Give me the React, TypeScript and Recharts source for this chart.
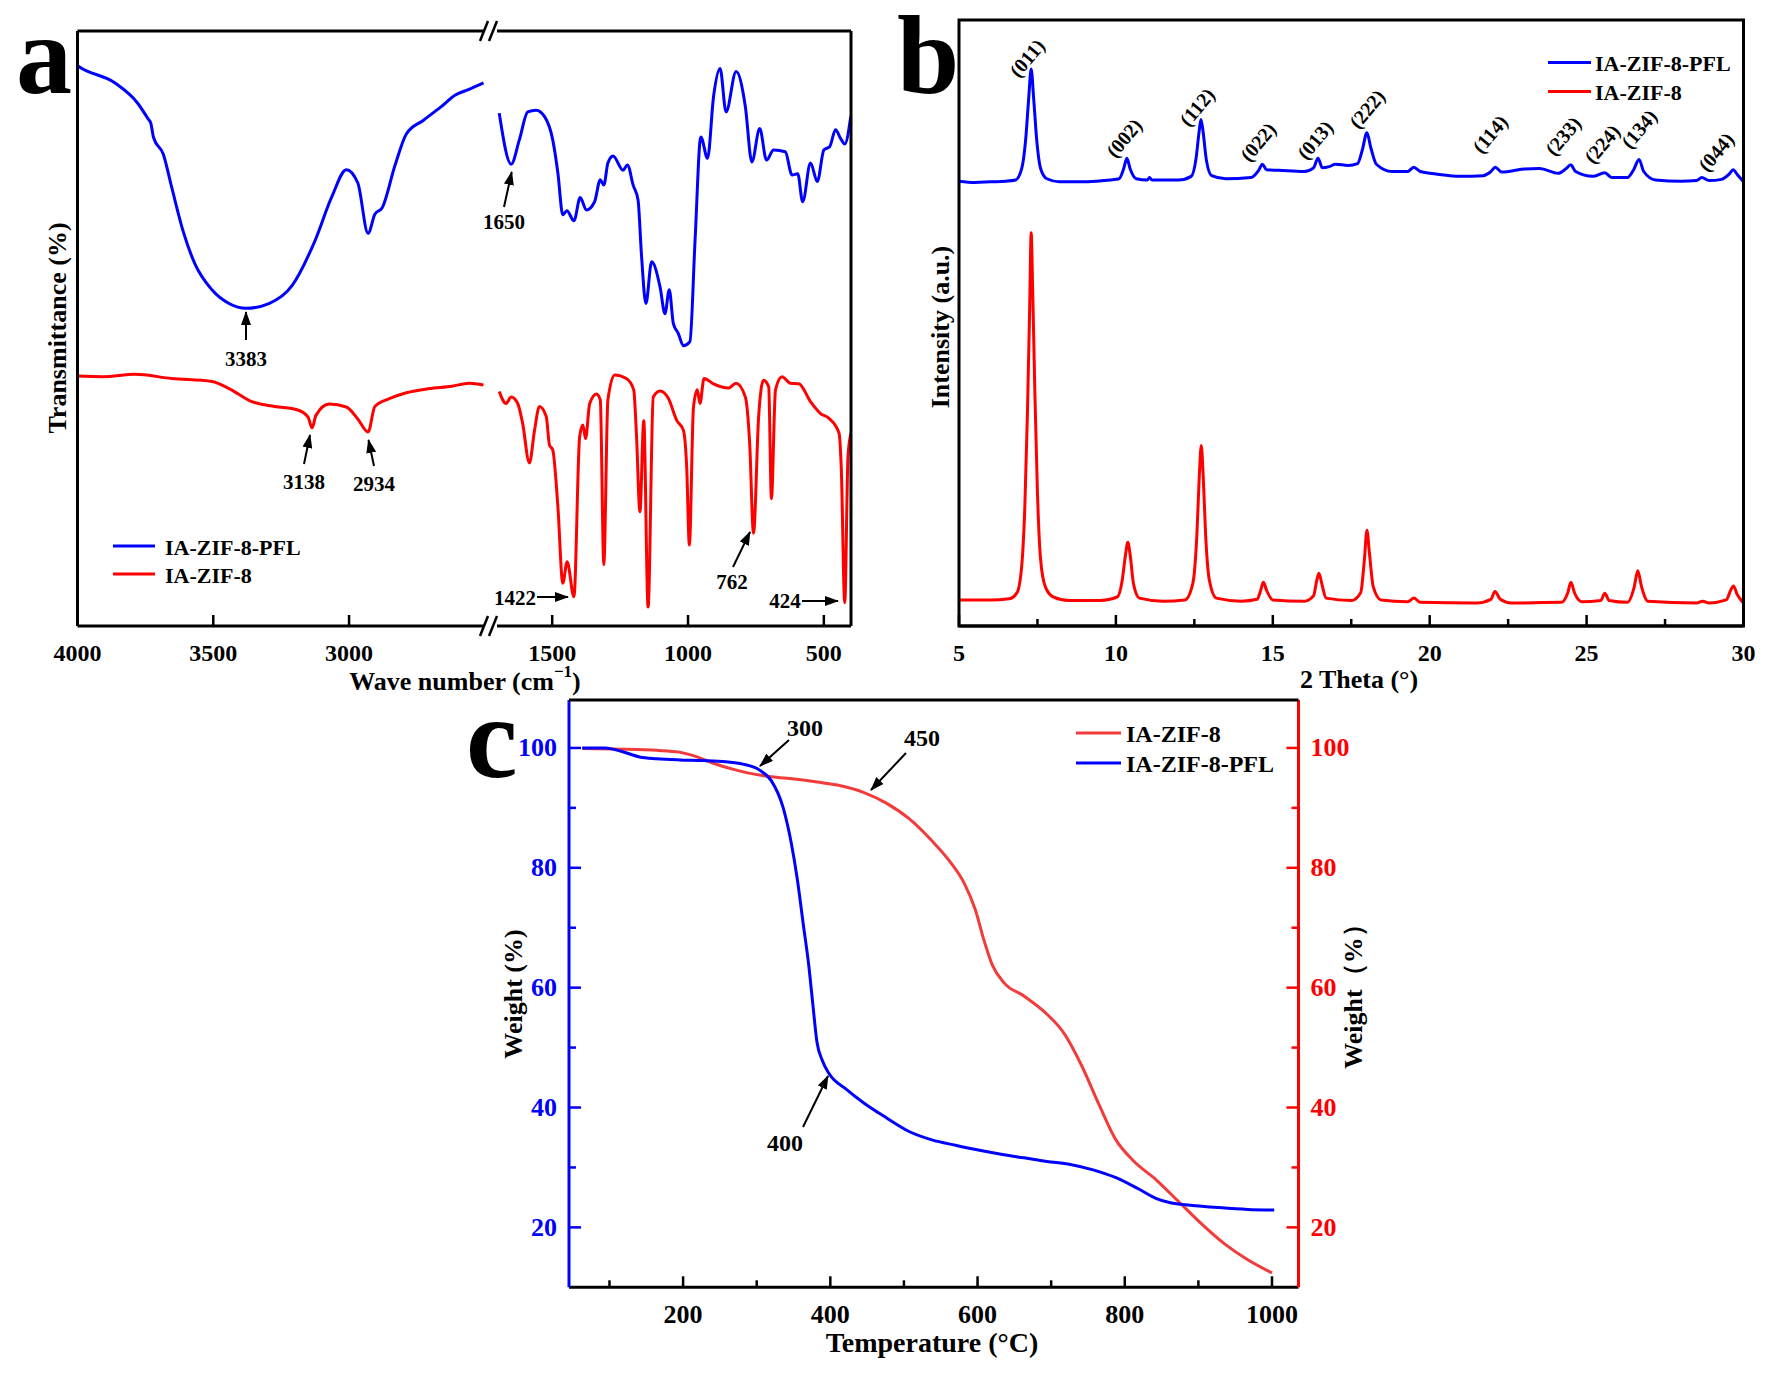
import React from "react";
import { LineChart, Line, XAxis, YAxis } from "recharts";

const FONT = "'Liberation Serif', 'Times New Roman', serif";
const BLUE = "#0000ff";
const RED = "#ff0000";
const RED_TGA = "#f23b3b";

// ---- panel a: FTIR (wavenumber, transmittance read as % of plot height) ----
const ftirPflHigh: [number, number][] = [
  [4000, 94.2], [3994, 94.0], [3863, 91.3], [3779, 87.9], [3741, 85.3], [3730, 84.5], [3720, 82.1],
  [3684, 79.3], [3653, 73.7], [3610, 66.2], [3568, 60.9], [3505, 56.5], [3442, 54.2], [3379, 53.4],
  [3295, 54.2], [3210, 57.2], [3126, 64.7], [3063, 72.2], [3010, 76.7], [2968, 74.5], [2930, 66.0],
  [2905, 69.2], [2878, 70.3], [2831, 77.4], [2789, 82.7], [2726, 85.0], [2663, 87.2], [2610, 89.2],
  [2558, 90.2], [2505, 91.3],
];
const ftirZifHigh: [number, number][] = [
  [4000, 42.0], [3905, 41.9], [3789, 42.3], [3653, 41.6], [3505, 41.1], [3442, 39.9], [3358, 37.7],
  [3274, 36.9], [3189, 36.3], [3151, 35.1], [3136, 33.3], [3122, 35.4], [3073, 37.3], [3010, 36.8],
  [2968, 34.8], [2930, 32.6], [2905, 36.9], [2852, 38.2], [2789, 39.2], [2705, 39.9], [2621, 40.3],
  [2558, 40.8], [2505, 40.5],
];
const ftirPflLow: [number, number][] = [
  [1695, 86.2], [1651, 77.6], [1621, 81.7], [1590, 86.4], [1559, 86.7], [1528, 85.6], [1498, 81.7],
  [1479, 76.1], [1461, 69.1], [1446, 69.8], [1420, 68.1], [1397, 72.0], [1374, 69.9], [1344, 71.3],
  [1323, 75.0], [1310, 74.1], [1295, 77.8], [1276, 79.0], [1239, 76.6], [1223, 77.5], [1202, 74.1],
  [1184, 71.6], [1171, 62.1], [1155, 54.2], [1134, 61.2], [1103, 57.0], [1085, 52.5], [1069, 56.5],
  [1054, 50.8], [1036, 49.2], [1017, 47.1], [993, 47.8], [974, 64.9], [953, 82.2], [928, 78.6],
  [906, 89.0], [882, 93.7], [860, 86.4], [823, 93.2], [789, 87.3], [765, 78.0], [736, 83.6],
  [711, 78.3], [685, 80.0], [642, 79.7], [617, 75.8], [596, 76.0], [578, 71.3], [549, 77.8],
  [524, 74.7], [500, 80.0], [478, 80.6], [457, 83.4], [438, 81.9], [423, 81.0], [401, 85.6],
];
const ftirZifLow: [number, number][] = [
  [1695, 39.4], [1670, 37.4], [1651, 38.5], [1627, 37.4], [1609, 34.1], [1584, 27.4], [1565, 32.9],
  [1547, 36.9], [1522, 35.2], [1510, 30.4], [1498, 29.6], [1479, 20.0], [1461, 7.2], [1445, 10.8],
  [1420, 4.9], [1399, 31.8], [1387, 33.8], [1377, 31.5], [1362, 37.4], [1337, 39.0], [1323, 38.0],
  [1310, 10.3], [1295, 38.0], [1270, 42.2], [1227, 41.6], [1200, 39.7], [1190, 32.4], [1177, 19.2],
  [1163, 34.5], [1147, 3.2], [1128, 38.5], [1103, 39.5], [1073, 38.3], [1042, 34.6], [1017, 32.9],
  [1005, 26.8], [995, 13.6], [980, 36.7], [966, 39.7], [956, 37.4], [941, 41.6], [906, 40.7],
  [851, 40.0], [823, 40.8], [789, 38.5], [773, 30.7], [759, 15.6], [740, 35.2], [722, 41.3],
  [703, 40.2], [693, 21.4], [678, 39.7], [654, 41.9], [623, 40.8], [592, 40.7], [549, 37.7],
  [512, 35.7], [481, 34.9], [444, 32.4], [436, 26.8], [423, 3.9], [411, 28.5], [400, 32.4],
];
const ftirTicksHigh = [4000, 3500, 3000];
const ftirTicksLow = [1500, 1000, 500];

// ---- panel b: XRD (2 theta, intensity as % of plot height) ----
const xrdPfl: [number, number][] = [
  [5.0, 73.4], [5.5, 73.2], [6.0, 73.3], [6.5, 73.4], [6.8, 73.6], [7.0, 75.5], [7.12, 80], [7.22, 87],
  [7.3, 91.9], [7.38, 87], [7.48, 80], [7.6, 75.5], [7.8, 73.8], [8.2, 73.3], [9.0, 73.3], [9.6, 73.5],
  [10.1, 73.8], [10.25, 75.5], [10.35, 77.2], [10.45, 75.5], [10.65, 73.8], [11.0, 73.6], [11.07, 74.0],
  [11.15, 73.6], [12.0, 73.6], [12.4, 74.2], [12.55, 77], [12.65, 81.5], [12.71, 83.6], [12.78, 81.5],
  [12.88, 77], [13.05, 74.3], [13.5, 73.8], [14.3, 74], [14.55, 75.2], [14.67, 76.2], [14.8, 75.3],
  [15.2, 75.2], [16.0, 75], [16.3, 75.6], [16.44, 77.2], [16.58, 75.6], [16.8, 75.8], [17.0, 76.2],
  [17.4, 76.0], [17.7, 76.3], [17.85, 78.5], [18.0, 81.4], [18.12, 79], [18.3, 76.2], [18.8, 75],
  [19.3, 75], [19.49, 75.7], [19.7, 75], [20.2, 74.6], [21.0, 74.2], [21.7, 74.3], [21.95, 75],
  [22.09, 75.7], [22.3, 74.9], [23.0, 75.4], [23.5, 75.5], [24.1, 74.7], [24.35, 75.5], [24.49, 76.1],
  [24.65, 75], [25.2, 74.2], [25.58, 74.8], [25.8, 74], [26.3, 74], [26.5, 75.3], [26.67, 77],
  [26.82, 75], [27.2, 73.6], [28.0, 73.4], [28.5, 73.5], [28.67, 74], [28.9, 73.5], [29.3, 73.7],
  [29.55, 74.6], [29.67, 75.3], [29.8, 74.5], [30.0, 73.3],
];
const xrdZif: [number, number][] = [
  [5.0, 4.3], [6.0, 4.3], [6.6, 4.5], [6.85, 5.5], [7.0, 10], [7.1, 20], [7.18, 35], [7.25, 52],
  [7.3, 64.9], [7.35, 55], [7.42, 38], [7.5, 22], [7.6, 11], [7.75, 6.5], [8.0, 4.8], [8.5, 4.2],
  [9.5, 4.2], [10.05, 4.8], [10.2, 7.5], [10.3, 11.5], [10.38, 13.8], [10.46, 11.5], [10.56, 7],
  [10.75, 4.6], [11.5, 4.1], [12.2, 4.3], [12.45, 7], [12.58, 15], [12.66, 25], [12.72, 29.8],
  [12.78, 25], [12.86, 15], [12.98, 7.5], [13.2, 4.6], [14.0, 4.1], [14.5, 4.4], [14.62, 6],
  [14.7, 7.2], [14.8, 5.9], [15.0, 4.3], [16.0, 4.1], [16.3, 5], [16.4, 7.5], [16.47, 8.7],
  [16.56, 7], [16.7, 4.6], [17.5, 4.2], [17.8, 5.5], [17.92, 11], [18.0, 15.8], [18.08, 12],
  [18.2, 6.5], [18.45, 4.3], [19.3, 4], [19.5, 4.6], [19.7, 3.9], [21.5, 3.8], [21.95, 4.4],
  [22.08, 5.7], [22.25, 4.4], [22.6, 3.8], [24.2, 3.9], [24.4, 5.5], [24.5, 7.2], [24.62, 5.4],
  [24.85, 4], [25.45, 4.2], [25.58, 5.4], [25.72, 4.2], [26.3, 3.9], [26.52, 6.5], [26.63, 9.1],
  [26.75, 6.5], [26.95, 4.1], [28.5, 3.8], [28.7, 4.1], [28.9, 3.8], [29.45, 4.3], [29.6, 6],
  [29.68, 6.6], [29.8, 5.2], [30.0, 3.8],
];
const xrdTicks = [5, 7.5, 10, 12.5, 15, 17.5, 20, 22.5, 25, 27.5, 30];
const xrdMajor = [5, 10, 15, 20, 25, 30];
const hklLabels = ["(011)", "(002)", "(112)", "(022)", "(013)", "(222)", "(114)", "(233)", "(224)", "(134)", "(044)"];
const hklPos: [number, number][] = [
  [1027, 58], [1124, 138], [1197, 107], [1258, 142], [1315, 140], [1367, 109],
  [1490, 134], [1563, 136], [1602, 144], [1639, 129], [1716, 152],
];

// ---- panel c: TGA (temperature, weight %) ----
const tgaPfl: [number, number][] = [
  [63, 100], [94, 100], [117, 99.4], [141, 98.5], [164, 98.2], [195, 98.0], [226, 97.9], [258, 97.7],
  [281, 97.3], [304, 96.3], [320, 94.5], [336, 90.0], [347, 84.1], [355, 78.2], [363, 70.8], [371, 63.4],
  [376, 57.5], [382, 50.8], [389, 47.9], [398, 45.7], [421, 43.1], [445, 40.8], [476, 38.3], [507, 36.0],
  [538, 34.6], [570, 33.7], [601, 32.9], [632, 32.2], [663, 31.6], [694, 31.0], [726, 30.5], [757, 29.6],
  [788, 28.3], [819, 26.4], [843, 24.8], [862, 24.1], [889, 23.7], [928, 23.3], [967, 23.0], [1003, 22.9],
];
const tgaZif: [number, number][] = [
  [63, 99.9], [117, 99.8], [164, 99.6], [195, 99.3], [219, 98.5], [242, 97.4], [266, 96.5], [289, 95.8],
  [320, 95.2], [351, 94.8], [382, 94.3], [414, 93.7], [445, 92.6], [476, 90.8], [507, 88.2], [538, 84.5],
  [562, 81.1], [582, 77.4], [597, 73.0], [609, 67.8], [620, 63.8], [636, 60.8], [663, 58.6], [694, 55.6],
  [718, 52.3], [741, 47.1], [765, 40.5], [788, 34.6], [811, 31.2], [843, 27.9], [874, 24.2], [905, 20.5],
  [936, 17.2], [967, 14.6], [1000, 12.4],
];
const tgaXTicks = [100, 200, 300, 400, 500, 600, 700, 800, 900, 1000];
const tgaXMajor = [200, 400, 600, 800, 1000];
const tgaYTicks = [20, 30, 40, 50, 60, 70, 80, 90, 100];
const tgaYMajor = [20, 40, 60, 80, 100];

const toPts = (arr: [number, number][]) => arr.map(([x, y]) => ({ x, y }));

const bold = { fontFamily: FONT, fontWeight: 700 } as const;

function bottomTick(majors: number[], size: number, color = "#000") {
  return (props: any) => {
    const { x, y, payload } = props;
    const major = majors.includes(payload.value);
    return (
      <g>
        <line x1={x} y1={y} x2={x} y2={y - (major ? 11 : 7)} stroke="#000" strokeWidth={2.5} />
        {major && (
          <text x={x} y={y + 27} textAnchor="middle" dominantBaseline="central" fontSize={size} fill={color} style={bold}>
            {payload.value}
          </text>
        )}
      </g>
    );
  };
}

function sideTick(side: "left" | "right", color: string) {
  return (props: any) => {
    const { x, y, payload } = props;
    const major = tgaYMajor.includes(payload.value);
    const dir = side === "left" ? 1 : -1;
    return (
      <g>
        <line x1={x} y1={y} x2={x + dir * (major ? 12 : 7)} y2={y} stroke={color} strokeWidth={2.5} />
        {major && (
          <text
            x={x - dir * 12}
            y={y}
            textAnchor={side === "left" ? "end" : "start"}
            dominantBaseline="central"
            fontSize={26}
            fill={color}
            style={bold}
          >
            {payload.value}
          </text>
        )}
      </g>
    );
  };
}

const Arrow = ({ x1, y1, x2, y2 }: { x1: number; y1: number; x2: number; y2: number }) => (
  <line x1={x1} y1={y1} x2={x2} y2={y2} stroke="#000" strokeWidth={2} markerEnd="url(#ah)" />
);

const T = ({ x, y, s, children, fill = "#000", rot, anchor = "middle" }: any) => (
  <text
    x={x}
    y={y}
    fontSize={s}
    fill={fill}
    textAnchor={anchor}
    dominantBaseline="central"
    transform={rot !== undefined ? `rotate(${rot} ${x} ${y})` : undefined}
    style={bold}
  >
    {children}
  </text>
);

export default function App() {
  const abs = (left: number, top: number): React.CSSProperties => ({ position: "absolute", left, top });
  return (
    <div style={{ position: "absolute", left: 0, top: 0, width: 1775, height: 1374, background: "#fff", overflow: "hidden" }}>
      {/* panel a, high wavenumber part */}
      <div style={abs(0, 0)}>
        <LineChart width={490} height={700} margin={{ top: 31, left: 77.5, right: 0, bottom: 24 }}>
          <XAxis
            type="number"
            dataKey="x"
            domain={[2481, 4000]}
            reversed
            allowDataOverflow
            ticks={ftirTicksHigh}
            interval={0}
            height={50}
            tickSize={0}
            tickMargin={0}
            tickLine={false}
            axisLine={{ stroke: "#000", strokeWidth: 3 }}
            tick={bottomTick(ftirTicksHigh, 24)}
          />
          <YAxis hide domain={[0, 100]} />
          <Line data={toPts(ftirPflHigh)} dataKey="y" type="monotone" stroke={BLUE} strokeWidth={3} dot={false} isAnimationActive={false} />
          <Line data={toPts(ftirZifHigh)} dataKey="y" type="monotone" stroke={RED} strokeWidth={3} dot={false} isAnimationActive={false} />
        </LineChart>
      </div>
      {/* panel a, low wavenumber part */}
      <div style={abs(490, 0)}>
        <LineChart width={400} height={700} margin={{ top: 31, left: 0, right: 39, bottom: 24 }}>
          <XAxis
            type="number"
            dataKey="x"
            domain={[400, 1729]}
            reversed
            allowDataOverflow
            ticks={ftirTicksLow}
            interval={0}
            height={50}
            tickSize={0}
            tickMargin={0}
            tickLine={false}
            axisLine={{ stroke: "#000", strokeWidth: 3 }}
            tick={bottomTick(ftirTicksLow, 24)}
          />
          <YAxis hide domain={[0, 100]} />
          <Line data={toPts(ftirPflLow)} dataKey="y" type="monotone" stroke={BLUE} strokeWidth={3} dot={false} isAnimationActive={false} />
          <Line data={toPts(ftirZifLow)} dataKey="y" type="monotone" stroke={RED} strokeWidth={3} dot={false} isAnimationActive={false} />
        </LineChart>
      </div>
      {/* panel b */}
      <div style={abs(880, 0)}>
        <LineChart width={895} height={700} margin={{ top: 20, left: 79, right: 31.5, bottom: 24 }}>
          <XAxis
            type="number"
            dataKey="x"
            domain={[5, 30]}
            allowDataOverflow
            ticks={xrdTicks}
            interval={0}
            height={50}
            tickSize={0}
            tickMargin={0}
            tickLine={false}
            axisLine={{ stroke: "#000", strokeWidth: 3 }}
            tick={bottomTick(xrdMajor, 24)}
          />
          <YAxis hide domain={[0, 100]} />
          <Line data={toPts(xrdPfl)} dataKey="y" type="monotone" stroke={BLUE} strokeWidth={3} dot={false} isAnimationActive={false} />
          <Line data={toPts(xrdZif)} dataKey="y" type="monotone" stroke={RED} strokeWidth={3} dot={false} isAnimationActive={false} />
        </LineChart>
      </div>
      {/* panel c */}
      <div style={abs(450, 680)}>
        <LineChart width={960} height={700} margin={{ top: 20, left: 59, right: 51.5, bottom: 32.7 }}>
          <XAxis
            type="number"
            dataKey="x"
            domain={[45, 1036]}
            allowDataOverflow
            ticks={tgaXTicks}
            interval={0}
            height={60}
            tickSize={0}
            tickMargin={0}
            tickLine={false}
            axisLine={{ stroke: "#000", strokeWidth: 3 }}
            tick={bottomTick(tgaXMajor, 26)}
          />
          <YAxis
            yAxisId="L"
            orientation="left"
            width={60}
            domain={[10, 108]}
            allowDataOverflow
            ticks={tgaYTicks}
            interval={0}
            tickSize={0}
            tickMargin={0}
            tickLine={false}
            axisLine={{ stroke: BLUE, strokeWidth: 3 }}
            tick={sideTick("left", BLUE)}
          />
          <YAxis
            yAxisId="R"
            orientation="right"
            width={60}
            domain={[10, 108]}
            allowDataOverflow
            ticks={tgaYTicks}
            interval={0}
            tickSize={0}
            tickMargin={0}
            tickLine={false}
            axisLine={{ stroke: RED, strokeWidth: 3 }}
            tick={sideTick("right", RED)}
          />
          <Line yAxisId="R" data={toPts(tgaZif)} dataKey="y" type="monotone" stroke={RED_TGA} strokeWidth={3} dot={false} isAnimationActive={false} />
          <Line yAxisId="L" data={toPts(tgaPfl)} dataKey="y" type="monotone" stroke={BLUE} strokeWidth={3} dot={false} isAnimationActive={false} />
        </LineChart>
      </div>

      {/* frames, labels, annotations */}
      <svg width={1775} height={1374} style={{ position: "absolute", left: 0, top: 0, pointerEvents: "none" }}>
        <defs>
          <marker id="ah" markerUnits="userSpaceOnUse" markerWidth={14} markerHeight={10} refX={13} refY={5} orient="auto">
            <path d="M0,0 L14,5 L0,10 z" fill="#000" />
          </marker>
        </defs>

        {/* panel a frame with axis break */}
        <g stroke="#000" strokeWidth={3} fill="none">
          <line x1={77.5} y1={31} x2={484} y2={31} />
          <line x1={497} y1={31} x2={851} y2={31} />
          <line x1={77.5} y1={31} x2={77.5} y2={626} />
          <line x1={851} y1={31} x2={851} y2={626} />
        </g>
        <rect x={484} y={620} width={13} height={12} fill="#fff" />
        <g stroke="#000" strokeWidth={2.5}>
          <line x1={480} y1={41} x2={488} y2={21} />
          <line x1={489} y1={41} x2={497} y2={21} />
          <line x1={480} y1={636} x2={488} y2={616} />
          <line x1={489} y1={636} x2={497} y2={616} />
        </g>
        <text x={16} y={93} fontSize={112} style={bold}>a</text>
        <T x={57} y={328} s={26} rot={-90}>Transmittance (%)</T>
        <text x={465} y={681} fontSize={26} textAnchor="middle" dominantBaseline="central" style={bold}>
          Wave number (cm<tspan dy={-10} fontSize={17}>−1</tspan><tspan dy={10}>)</tspan>
        </text>
        <line x1={113} y1={546} x2={155} y2={546} stroke={BLUE} strokeWidth={3} />
        <line x1={113} y1={574} x2={155} y2={574} stroke={RED} strokeWidth={3} />
        <T x={165} y={547} s={22} anchor="start">IA-ZIF-8-PFL</T>
        <T x={165} y={575} s={22} anchor="start">IA-ZIF-8</T>
        <T x={246} y={359} s={21}>3383</T>
        <Arrow x1={246} y1={340} x2={246} y2={312} />
        <T x={504} y={222} s={21}>1650</T>
        <Arrow x1={504} y1={207} x2={511.7} y2={172} />
        <T x={304} y={482} s={21}>3138</T>
        <Arrow x1={304} y1={464} x2={310} y2={435} />
        <T x={374} y={484} s={21}>2934</T>
        <Arrow x1={374} y1={466} x2={368.5} y2={440} />
        <T x={732} y={582} s={21}>762</T>
        <Arrow x1={733} y1={567} x2={750} y2={532} />
        <T x={515} y={598} s={21}>1422</T>
        <Arrow x1={537} y1={597} x2={568} y2={597} />
        <T x={785} y={601} s={21}>424</T>
        <Arrow x1={802} y1={601} x2={838} y2={601} />

        {/* panel b */}
        <rect x={959} y={20} width={784.5} height={606} stroke="#000" strokeWidth={3} fill="none" />
        <text x={897} y={93} fontSize={112} style={bold}>b</text>
        <T x={940} y={327} s={26} rot={-90}>Intensity (a.u.)</T>
        <T x={1359} y={679} s={26}>2 Theta (°)</T>
        <line x1={1548} y1={62.5} x2={1591} y2={62.5} stroke={BLUE} strokeWidth={3} />
        <line x1={1548} y1={91.5} x2={1591} y2={91.5} stroke={RED} strokeWidth={3} />
        <T x={1595} y={63} s={22} anchor="start">IA-ZIF-8-PFL</T>
        <T x={1595} y={92} s={22} anchor="start">IA-ZIF-8</T>
        {hklLabels.map((h, i) => (
          <T key={h} x={hklPos[i][0]} y={hklPos[i][1]} s={20} rot={-50}>
            {h}
          </T>
        ))}

        {/* panel c */}
        <line x1={569} y1={700} x2={1298.5} y2={700} stroke="#000" strokeWidth={3} />
        <text x={466} y={777} fontSize={116} style={bold}>c</text>
        <T x={513} y={994} s={26} rot={-90}>Weight (%)</T>
        <T x={1353} y={990} s={26} rot={-90}>Weight（%）</T>
        <T x={932} y={1342} s={28}>Temperature (°C)</T>
        <line x1={1076} y1={733} x2={1121} y2={733} stroke={RED_TGA} strokeWidth={3} />
        <line x1={1076} y1={763} x2={1121} y2={763} stroke={BLUE} strokeWidth={3} />
        <T x={1126} y={734} s={24} anchor="start">IA-ZIF-8</T>
        <T x={1126} y={764} s={24} anchor="start">IA-ZIF-8-PFL</T>
        <T x={805} y={728} s={24}>300</T>
        <Arrow x1={789} y1={740} x2={760} y2={766} />
        <T x={922} y={738} s={24}>450</T>
        <Arrow x1={906} y1={753} x2={871} y2={790} />
        <T x={785} y={1143} s={24}>400</T>
        <Arrow x1={803} y1={1127} x2={828} y2={1076} />
      </svg>
    </div>
  );
}
